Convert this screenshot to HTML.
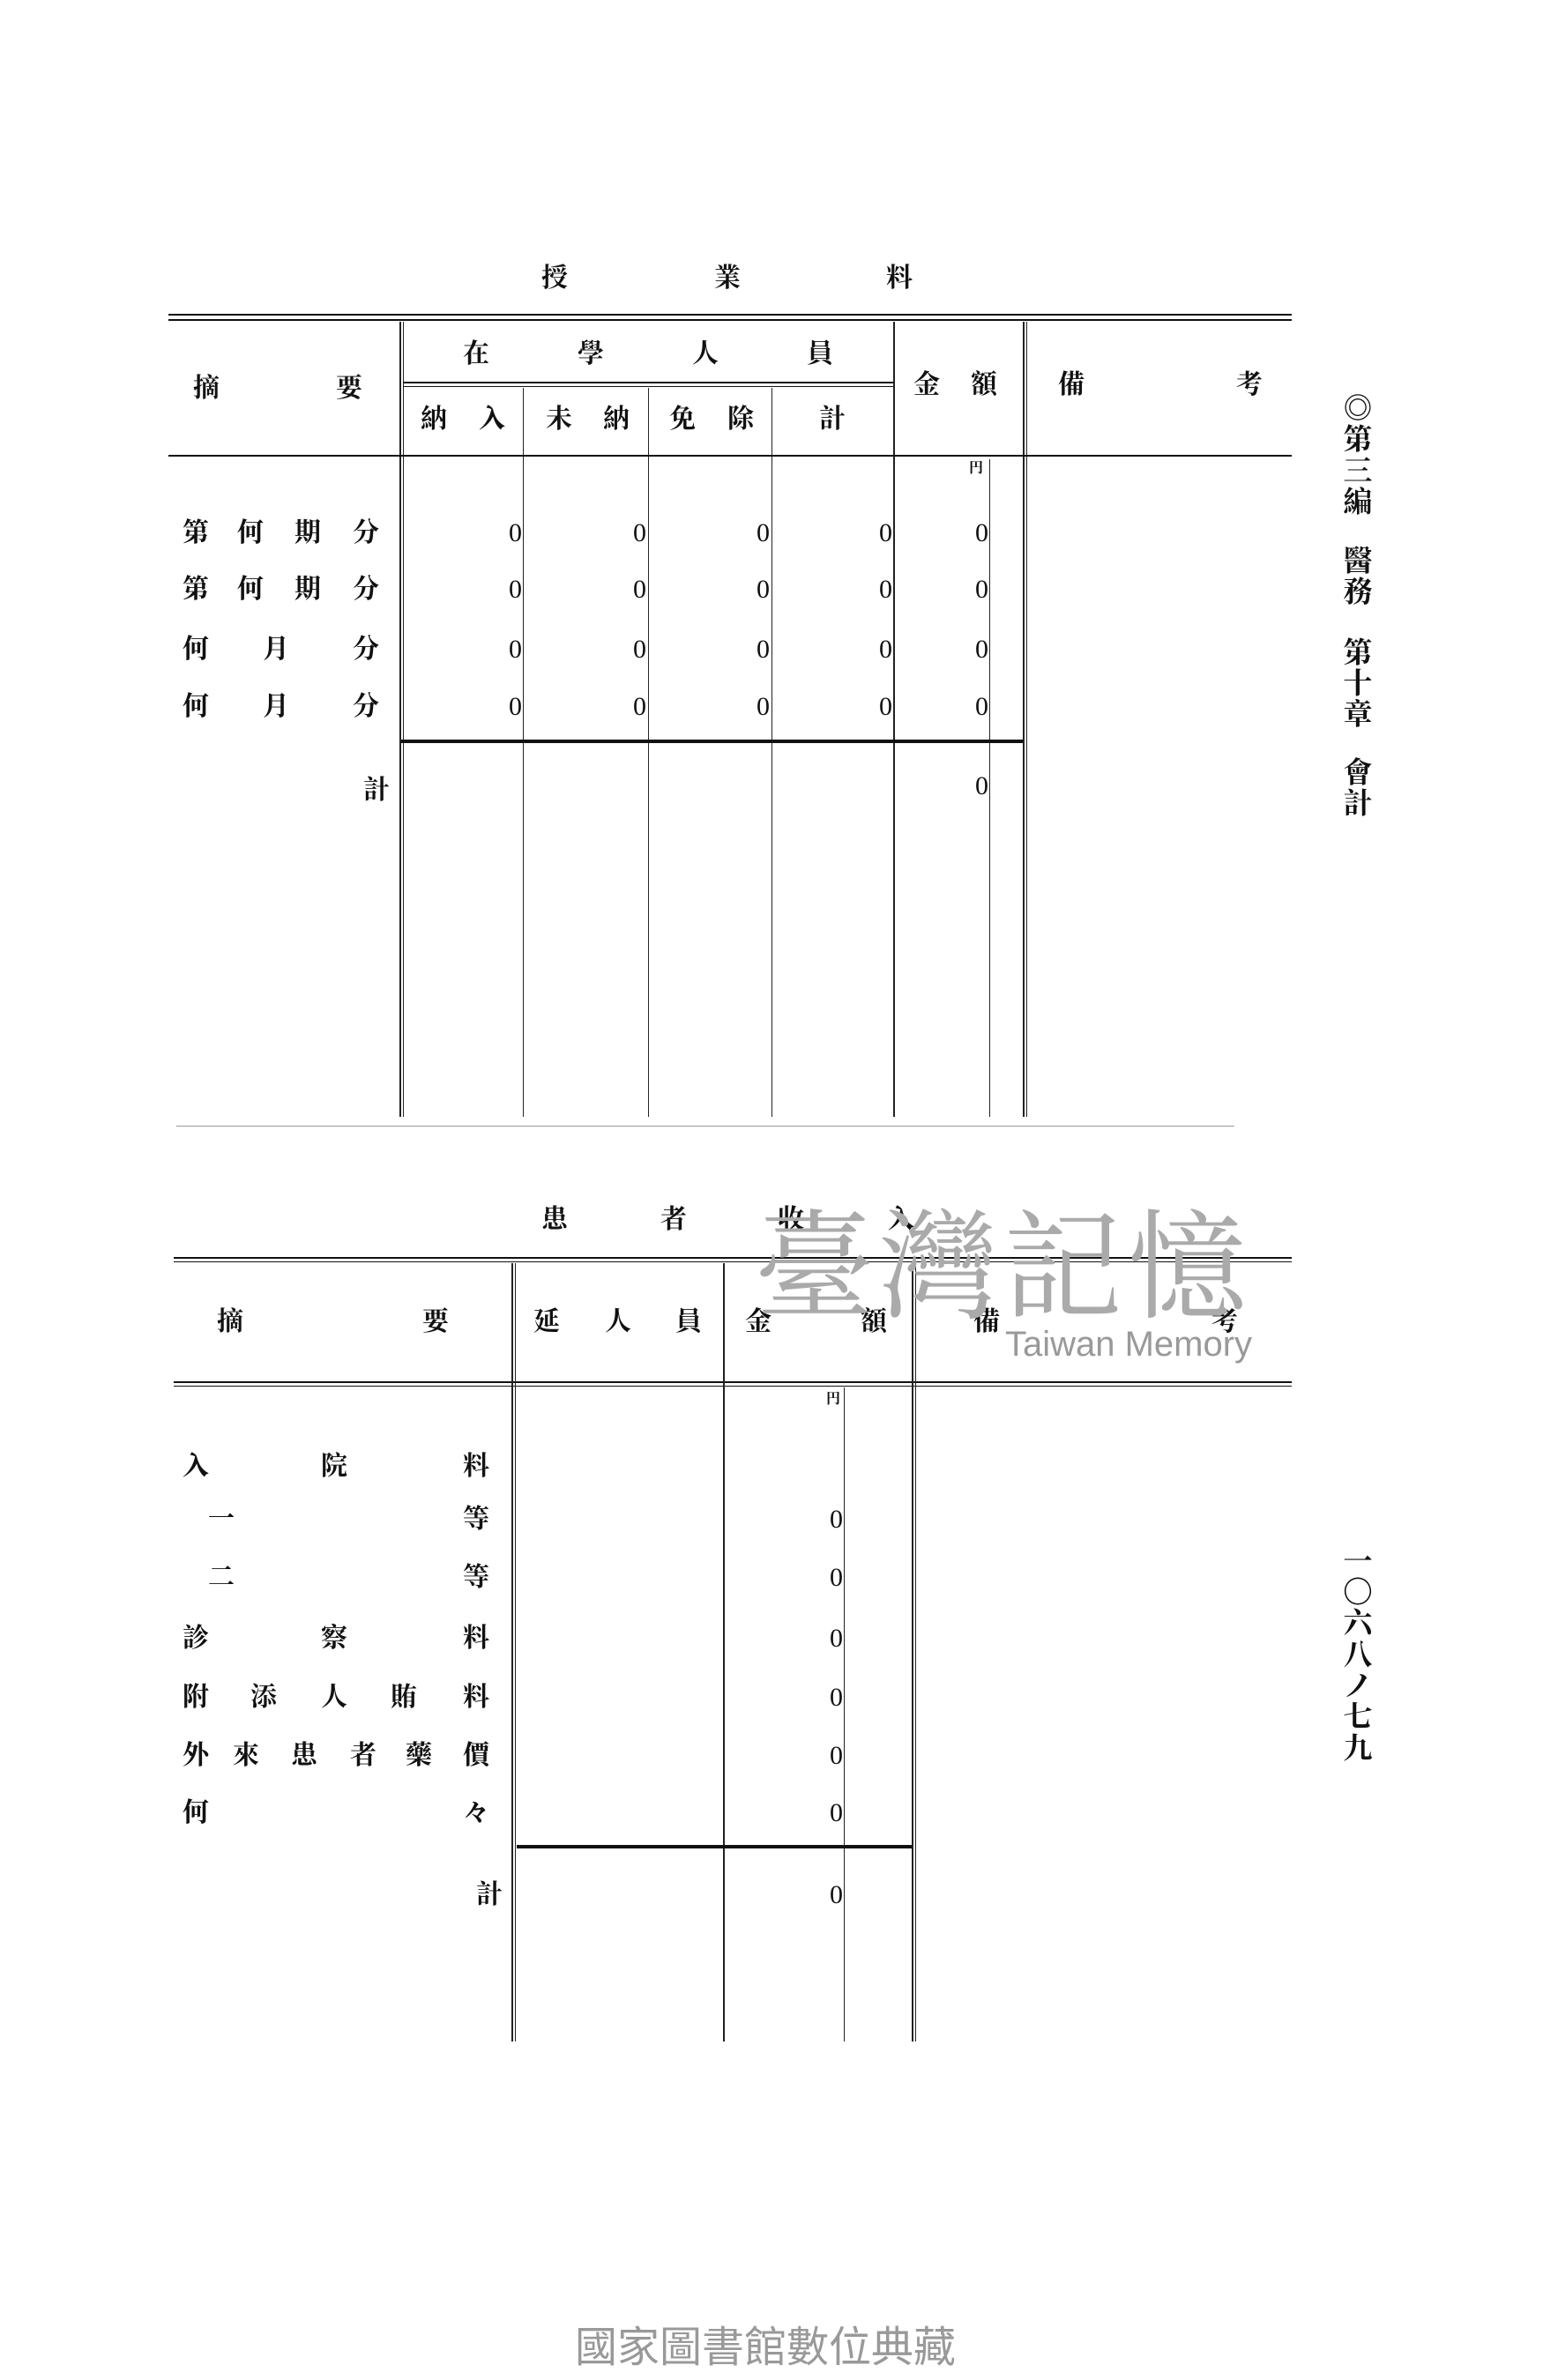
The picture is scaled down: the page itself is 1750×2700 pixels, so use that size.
<!DOCTYPE html>
<html><head><meta charset="utf-8"><style>
body{margin:0;background:#fff}
#p{position:relative;width:1750px;height:2700px;overflow:hidden;background:#fff;font-family:"Liberation Serif","Noto Serif CJK SC","Noto Sans CJK SC",serif;font-weight:bold;color:#111}
.t{position:absolute;transform:translate(-50%,-50%);font-size:30px;line-height:1;white-space:nowrap}
.s{font-size:33px}
.z{position:absolute;transform:translate(-100%,-50%);font-size:30px;line-height:1;font-weight:normal;font-family:"Liberation Serif",serif}
.h{position:absolute;background:#111}
.v{position:absolute;background:#222;width:2px}
</style></head><body><div id="p">
<!-- table 1 -->
<div class="t" style="left:629px;top:316px">授</div>
<div class="t" style="left:825px;top:316px">業</div>
<div class="t" style="left:1020px;top:316px">料</div>
<div class="h" style="left:191px;top:356px;width:1274px;height:2px"></div>
<div class="h" style="left:191px;top:362px;width:1274px;height:2px"></div>
<div class="v" style="left:453px;top:365px;height:902px"></div>
<div class="v" style="left:457px;top:365px;height:902px;width:1px"></div>
<div class="v" style="left:1013px;top:365px;height:902px"></div>
<div class="v" style="left:1160px;top:365px;height:902px"></div>
<div class="v" style="left:1164px;top:365px;height:902px;width:1px"></div>
<div class="v" style="left:593px;top:440px;height:827px;width:1px"></div>
<div class="v" style="left:735px;top:440px;height:827px;width:1px"></div>
<div class="v" style="left:875px;top:440px;height:827px;width:1px"></div>
<div class="v" style="left:1122px;top:521px;height:746px;width:1px"></div>
<div class="h" style="left:457px;top:433px;width:556px;height:2px"></div>
<div class="h" style="left:457px;top:438px;width:556px;height:1px"></div>
<div class="h" style="left:191px;top:516px;width:1274px;height:2px"></div>
<div class="h" style="left:455px;top:839px;width:705px;height:4px"></div>
<div class="h" style="left:200px;top:1277px;width:1200px;height:1px;background:#999"></div>
<div class="t" style="left:234px;top:441px">摘</div>
<div class="t" style="left:396px;top:441px">要</div>
<div class="t" style="left:540px;top:402px">在</div>
<div class="t" style="left:670px;top:402px">學</div>
<div class="t" style="left:800px;top:402px">人</div>
<div class="t" style="left:930px;top:402px">員</div>
<div class="t" style="left:492px;top:476px">納</div><div class="t" style="left:558px;top:476px">入</div>
<div class="t" style="left:634px;top:476px">未</div><div class="t" style="left:699px;top:476px">納</div>
<div class="t" style="left:774px;top:476px">免</div><div class="t" style="left:840px;top:476px">除</div>
<div class="t" style="left:944px;top:476px">計</div>
<div class="t" style="left:1051px;top:437px">金</div><div class="t" style="left:1116px;top:437px">額</div>
<div class="t" style="left:1215px;top:437px">備</div><div class="t" style="left:1417px;top:437px">考</div>
<div class="t" style="left:1107px;top:532px;font-size:16px">円</div>
<div class="t" style="left:222px;top:605px">第</div><div class="t" style="left:284px;top:605px">何</div><div class="t" style="left:349px;top:605px">期</div><div class="t" style="left:415px;top:605px">分</div>
<div class="t" style="left:222px;top:669px">第</div><div class="t" style="left:284px;top:669px">何</div><div class="t" style="left:349px;top:669px">期</div><div class="t" style="left:415px;top:669px">分</div>
<div class="t" style="left:222px;top:737px">何</div><div class="t" style="left:313px;top:737px">月</div><div class="t" style="left:415px;top:737px">分</div>
<div class="t" style="left:222px;top:802px">何</div><div class="t" style="left:313px;top:802px">月</div><div class="t" style="left:415px;top:802px">分</div>
<div class="t" style="left:427px;top:897px">計</div>
<div class="z" style="left:592px;top:605px">0</div><div class="z" style="left:733px;top:605px">0</div><div class="z" style="left:873px;top:605px">0</div><div class="z" style="left:1012px;top:605px">0</div><div class="z" style="left:1121px;top:605px">0</div>
<div class="z" style="left:592px;top:669px">0</div><div class="z" style="left:733px;top:669px">0</div><div class="z" style="left:873px;top:669px">0</div><div class="z" style="left:1012px;top:669px">0</div><div class="z" style="left:1121px;top:669px">0</div>
<div class="z" style="left:592px;top:737px">0</div><div class="z" style="left:733px;top:737px">0</div><div class="z" style="left:873px;top:737px">0</div><div class="z" style="left:1012px;top:737px">0</div><div class="z" style="left:1121px;top:737px">0</div>
<div class="z" style="left:592px;top:802px">0</div><div class="z" style="left:733px;top:802px">0</div><div class="z" style="left:873px;top:802px">0</div><div class="z" style="left:1012px;top:802px">0</div><div class="z" style="left:1121px;top:802px">0</div>
<div class="z" style="left:1121px;top:892px">0</div>
<!-- table 2 -->
<div class="t" style="left:629px;top:1384px">患</div><div class="t" style="left:764px;top:1384px">者</div><div class="t" style="left:897px;top:1384px">收</div><div class="t" style="left:1022px;top:1384px">入</div>
<div class="h" style="left:197px;top:1426px;width:1268px;height:2px"></div>
<div class="h" style="left:197px;top:1431px;width:1268px;height:1px"></div>
<div class="h" style="left:197px;top:1567px;width:1268px;height:2px"></div>
<div class="h" style="left:197px;top:1572px;width:1268px;height:1px"></div>
<div class="v" style="left:580px;top:1433px;height:883px"></div>
<div class="v" style="left:584px;top:1433px;height:883px;width:1px"></div>
<div class="v" style="left:820px;top:1433px;height:883px"></div>
<div class="v" style="left:1034px;top:1433px;height:883px"></div>
<div class="v" style="left:1038px;top:1433px;height:883px;width:1px"></div>
<div class="v" style="left:957px;top:1574px;height:742px;width:1px"></div>
<div class="h" style="left:586px;top:2093px;width:448px;height:4px"></div>
<div class="t" style="left:261px;top:1500px">摘</div><div class="t" style="left:494px;top:1500px">要</div>
<div class="t" style="left:620px;top:1500px">延</div><div class="t" style="left:701px;top:1500px">人</div><div class="t" style="left:781px;top:1500px">員</div>
<div class="t" style="left:860px;top:1500px">金</div><div class="t" style="left:991px;top:1500px">額</div>
<div class="t" style="left:1119px;top:1500px">備</div><div class="t" style="left:1389px;top:1500px">考</div>
<div class="t" style="left:945px;top:1588px;font-size:16px">円</div>
<div class="t" style="left:222px;top:1664px">入</div><div class="t" style="left:379px;top:1664px">院</div><div class="t" style="left:540px;top:1664px">料</div>
<div class="t" style="left:251px;top:1724px">一</div><div class="t" style="left:540px;top:1724px">等</div>
<div class="t" style="left:251px;top:1790px">二</div><div class="t" style="left:540px;top:1790px">等</div>
<div class="t" style="left:222px;top:1859px">診</div><div class="t" style="left:379px;top:1859px">察</div><div class="t" style="left:540px;top:1859px">料</div>
<div class="t" style="left:222px;top:1926px">附</div><div class="t" style="left:299px;top:1926px">添</div><div class="t" style="left:379px;top:1926px">人</div><div class="t" style="left:458px;top:1926px">賄</div><div class="t" style="left:540px;top:1926px">料</div>
<div class="t" style="left:222px;top:1992px">外</div><div class="t" style="left:279px;top:1992px">來</div><div class="t" style="left:345px;top:1992px">患</div><div class="t" style="left:412px;top:1992px">者</div><div class="t" style="left:475px;top:1992px">藥</div><div class="t" style="left:540px;top:1992px">價</div>
<div class="t" style="left:222px;top:2057px">何</div><div class="t" style="left:540px;top:2057px">々</div>
<div class="t" style="left:555px;top:2150px">計</div>
<div class="z" style="left:956px;top:1724px">0</div><div class="z" style="left:956px;top:1790px">0</div><div class="z" style="left:956px;top:1859px">0</div><div class="z" style="left:956px;top:1926px">0</div><div class="z" style="left:956px;top:1992px">0</div><div class="z" style="left:956px;top:2057px">0</div><div class="z" style="left:956px;top:2150px">0</div>
<!-- watermark -->
<div class="t" style="left:1138px;top:1440px;font-size:135px;color:#aaa;font-weight:normal;letter-spacing:6px">臺灣記憶</div>
<div class="t" style="left:1280px;top:1525px;font-size:40px;color:#999;font-weight:normal;font-family:'Liberation Sans',sans-serif">Taiwan Memory</div>
<!-- side -->
<div class="t s" style="left:1540px;top:465px">◎</div>
<div class="t s" style="left:1540px;top:500px">第</div><div class="t s" style="left:1540px;top:536px">三</div><div class="t s" style="left:1540px;top:571px">編</div>
<div class="t s" style="left:1540px;top:638px">醫</div><div class="t s" style="left:1540px;top:673px">務</div>
<div class="t s" style="left:1540px;top:742px">第</div><div class="t s" style="left:1540px;top:777px">十</div><div class="t s" style="left:1540px;top:812px">章</div>
<div class="t s" style="left:1540px;top:878px">會</div><div class="t s" style="left:1540px;top:913px">計</div>
<div class="t s" style="left:1540px;top:1773px">一</div><div class="t s" style="left:1540px;top:1808px">〇</div><div class="t s" style="left:1540px;top:1843px">六</div><div class="t s" style="left:1540px;top:1879px">八</div><div class="t s" style="left:1540px;top:1914px">ノ</div><div class="t s" style="left:1540px;top:1949px">七</div><div class="t s" style="left:1540px;top:1985px">九</div>
<div class="t" style="left:868px;top:2664px;font-size:48px;color:#999;font-weight:normal;font-family:'Liberation Sans','Noto Sans CJK TC',sans-serif">國家圖書館數位典藏</div>
</div></body></html>
